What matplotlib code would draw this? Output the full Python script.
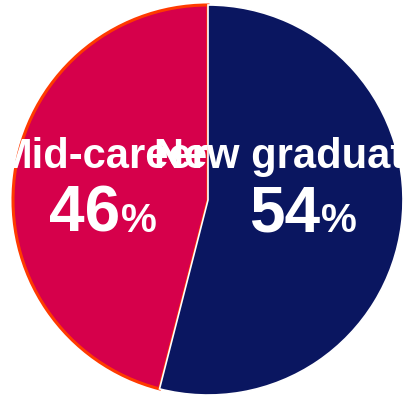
import matplotlib
matplotlib.use("Agg")
import matplotlib.pyplot as plt

labels = ["New graduate", "Mid-career"]
shares = [54, 46]
colors = ["#0a1660", "#d6004b"]
edges = ["white", "#ff3a00"]

plt.rcParams["font.family"] = ["Liberation Sans", "DejaVu Sans"]

fig = plt.figure(figsize=(4.06, 3.96), dpi=100)
ax = fig.add_axes([0, 0, 1, 1])

wedges, _ = ax.pie(shares, colors=colors, startangle=90, counterclock=False,
                   radius=195, center=(208, 196), frame=True)
ax.set_xlim(0, 406)
ax.set_ylim(0, 396)
ax.axis("off")

# mid-career gets the orange rim, new graduate a white one drawn on top
wedges[1].set_edgecolor(edges[1])
wedges[1].set_linewidth(2.2)
wedges[1].set_zorder(1)
wedges[0].set_edgecolor(edges[0])
wedges[0].set_linewidth(1.2)
wedges[0].set_zorder(2)

name_x = [291, 103]
pct_x = [320, 120]
for name, val, nx, px in zip(labels, shares, name_x, pct_x):
    ax.text(nx, 228, name, ha="center", va="baseline", color="white",
            fontsize=30, fontweight="bold", zorder=5)
    ax.text(px, 164, str(val), ha="right", va="baseline", color="white",
            fontsize=46, fontweight="bold", zorder=5)
    ax.text(px + 1, 164, "%", ha="left", va="baseline", color="white",
            fontsize=29, fontweight="bold", zorder=5)

fig.savefig("out.png", dpi=100)
